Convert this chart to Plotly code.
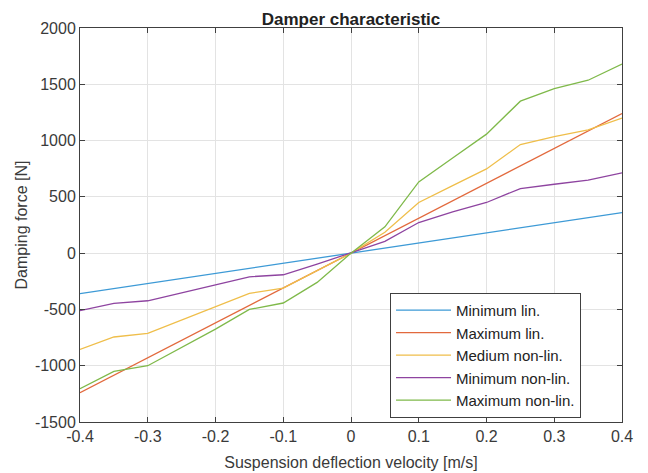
import plotly.graph_objects as go

velocity = [-0.4, -0.35, -0.3, -0.25, -0.2, -0.15, -0.1, -0.05, 0.0,
            0.05, 0.1, 0.15, 0.2, 0.25, 0.3, 0.35, 0.4]

min_lin = [-360, -315, -270, -225, -180, -135, -90, -45, 0,
           45, 90, 135, 180, 225, 270, 315, 360]
max_lin = [-1240, -1085, -930, -775, -620, -465, -310, -155, 0,
           155, 310, 465, 620, 775, 930, 1085, 1240]
medium_nonlin = [-855, -745, -712, -595, -480, -358, -310, -155, 0,
                 185, 450, 600, 748, 965, 1035, 1095, 1200]
min_nonlin = [-510, -447, -423, -355, -282, -210, -192, -98, 0,
              104, 272, 367, 450, 574, 612, 648, 713]
max_nonlin = [-1205, -1050, -1000, -840, -675, -500, -443, -260, 0,
              234, 633, 845, 1057, 1350, 1461, 1536, 1680]

names = ["Minimum lin.", "Maximum lin.", "Medium non-lin.",
         "Minimum non-lin.", "Maximum non-lin."]
series = [min_lin, max_lin, medium_nonlin, min_nonlin, max_nonlin]
colors = ["#3d9ad6", "#e2693d", "#efbe4a", "#8e44a0", "#7fb94a"]

x_ticks = [-0.4, -0.3, -0.2, -0.1, 0, 0.1, 0.2, 0.3, 0.4]
x_ticktext = ["-0.4", "-0.3", "-0.2", "-0.1", "0", "0.1", "0.2", "0.3", "0.4"]
y_ticks = [-1500, -1000, -500, 0, 500, 1000, 1500, 2000]
y_ticktext = ["-1500", "-1000", "-500", "0", "500", "1000", "1500", "2000"]

FONT = "Liberation Sans, Arial"

fig = go.Figure()
for name, vals, col in zip(names, series, colors):
    fig.add_trace(go.Scatter(x=velocity, y=vals, mode="lines", name=name,
                             line=dict(color=col, width=1.3)))

axis_common = dict(showline=True, linecolor="#404040", linewidth=1, mirror="ticks",
                   ticks="inside", ticklen=5, tickcolor="#404040",
                   showgrid=True, gridcolor="#e3e3e3", gridwidth=1,
                   zeroline=False, tickfont=dict(family=FONT, size=16, color="#3a3a3a"))

fig.update_layout(
    width=648, height=473,
    margin=dict(l=72, r=34, t=20, b=59),
    paper_bgcolor="white", plot_bgcolor="white",
    title=dict(text="<b>Damper characteristic</b>", x=0.5, xanchor="center",
               y=0.99, yanchor="top", xref="paper",
               font=dict(family=FONT, size=17, color="#222222")),
    xaxis=dict(range=[-0.4, 0.4], tickvals=x_ticks, ticktext=x_ticktext,
               title=dict(text="Suspension deflection velocity [m/s]", standoff=12,
                          font=dict(family=FONT, size=16, color="#3a3a3a")),
               **axis_common),
    yaxis=dict(range=[-1500, 2000], tickvals=y_ticks, ticktext=y_ticktext,
               title=dict(text="Damping force [N]", standoff=3,
                          font=dict(family=FONT, size=16, color="#3a3a3a")),
               **axis_common),
    legend=dict(x=0.572, y=0.169, xanchor="left", yanchor="middle",
                bgcolor="white", bordercolor="#404040", borderwidth=1,
                font=dict(family=FONT, size=15, color="#222222"),
                tracegroupgap=0, itemwidth=55),
    showlegend=True,
)

fig.write_html("out.html")
